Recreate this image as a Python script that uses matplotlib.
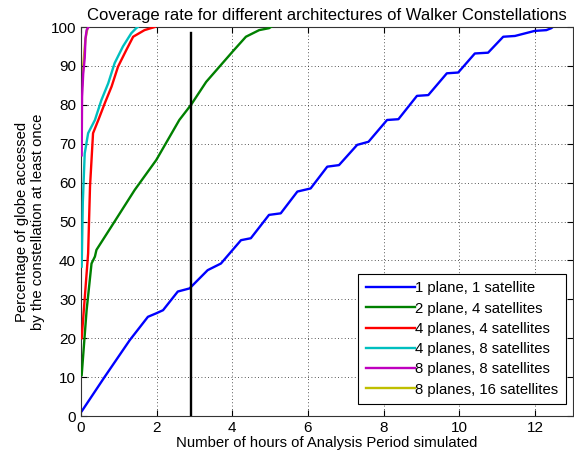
import numpy as np
import matplotlib
matplotlib.use("Agg")
import matplotlib.pyplot as plt

plt.rcParams['font.family'] = ['Liberation Sans', 'DejaVu Sans']

labels = ["1 plane, 1 satellite", "2 plane, 4 satellites", "4 planes, 4 satellites",
          "4 planes, 8 satellites", "8 planes, 8 satellites", "8 planes, 16 satellites"]
colors = ["#0000ff", "#008000", "#ff0000", "#00bfbf", "#bf00bf", "#bfbf00"]

# 1 plane, 1 satellite
hours_1 = [0.0, 0.02, 0.63, 1.29, 1.77, 1.99, 2.17, 2.56, 2.87, 3.35, 3.7, 4.23, 4.49,
           4.97, 5.28, 5.72, 6.07, 6.51, 6.82, 7.3, 7.6, 8.09, 8.39, 8.88, 9.18,
           9.67, 9.97, 10.41, 10.76, 11.16, 11.47, 11.99, 12.3, 12.43, 12.47]
cov_1 = [1.0, 1.2, 10.1, 19.5, 25.5, 26.4, 27.2, 32.0, 32.8, 37.5, 39.2, 45.2, 45.7,
         51.7, 52.1, 57.7, 58.5, 64.1, 64.5, 69.7, 70.5, 76.1, 76.3, 82.3, 82.5,
         88.1, 88.3, 93.2, 93.4, 97.5, 97.7, 99.0, 99.2, 99.7, 100.0]

# 2 planes, 4 satellites
hours_2 = [0.02, 0.15, 0.28, 0.37, 0.41, 0.89, 1.42, 1.99, 2.6, 2.91, 3.31, 3.66,
           4.01, 4.36, 4.71, 4.97, 5.02]
cov_2 = [10.5, 27.2, 39.2, 41.0, 42.7, 50.0, 58.1, 65.8, 76.1, 80.0, 85.9, 89.8,
         93.7, 97.5, 99.2, 99.7, 100.0]

# 4 planes, 4 satellites
hours_3 = [0.02, 0.19, 0.24, 0.32, 0.46, 0.63, 0.81, 0.98, 1.2, 1.38, 1.68, 1.95]
cov_3 = [20.0, 41.8, 59.0, 72.7, 76.1, 80.4, 84.7, 89.8, 94.1, 97.5, 99.2, 100.0]

# 4 planes, 8 satellites
hours_4 = [0.02, 0.05, 0.1, 0.19, 0.37, 0.54, 0.72, 0.89, 1.11, 1.33, 1.46, 1.5]
cov_4 = [38.4, 55.0, 67.5, 72.7, 76.1, 81.2, 85.5, 90.7, 95.0, 98.4, 99.7, 100.0]

# 8 planes, 8 satellites
hours_5 = [0.02, 0.03, 0.06, 0.1, 0.12, 0.15, 0.2]
cov_5 = [67.0, 82.0, 88.0, 92.0, 97.0, 99.2, 100.0]

# 8 planes, 16 satellites
hours_6 = [0.03, 0.06, 0.12, 0.18]
cov_6 = [85.0, 90.0, 97.0, 100.0]

marker_hour = 2.92

series = [(hours_1, cov_1), (hours_2, cov_2), (hours_3, cov_3),
          (hours_4, cov_4), (hours_5, cov_5), (hours_6, cov_6)]

fig = plt.figure(figsize=(5.74, 4.61), dpi=100)
ax = fig.add_axes([0.141, 0.0976, 0.857, 0.8438])

for i, ((h, c), lab, col) in enumerate(zip(series, labels, colors)):
    z = 1.5 if i == 5 else 2 + i
    ax.plot(h, c, color=col, lw=1.7, label=lab, zorder=z)

ax.plot([marker_hour, marker_hour], [0, 98.5], color="k", lw=1.7, zorder=8)

ax.set_xlim(0, 13)
ax.set_ylim(0, 100)
ax.set_xticks(np.arange(0, 13, 2))
ax.set_yticks(np.arange(0, 101, 10))
ax.grid(True, color="#222222", linestyle=(0, (1, 3)), linewidth=0.6)
ax.tick_params(direction="in", top=True, right=True, labelsize=11, length=4)
for s in ax.spines.values():
    s.set_color("#333333")

ax.set_title("Coverage rate for different architectures of Walker Constellations", fontsize=12,
             pad=5)
ax.set_xlabel("Number of hours of Analysis Period simulated", fontsize=10.7, labelpad=1)
ax.set_ylabel("Percentage of globe accessed\nby the constellation at least once", fontsize=10.7,
              labelpad=4)

leg = ax.legend(loc="lower right", bbox_to_anchor=(0.986, 0.031), borderaxespad=0,
                fontsize=10.7, handlelength=3.3, handletextpad=0.05,
                fancybox=False, framealpha=1, edgecolor="k",
                labelspacing=0.42, borderpad=0.5)
leg.get_frame().set_linewidth(0.8)

fig.savefig("out.png", dpi=100)
